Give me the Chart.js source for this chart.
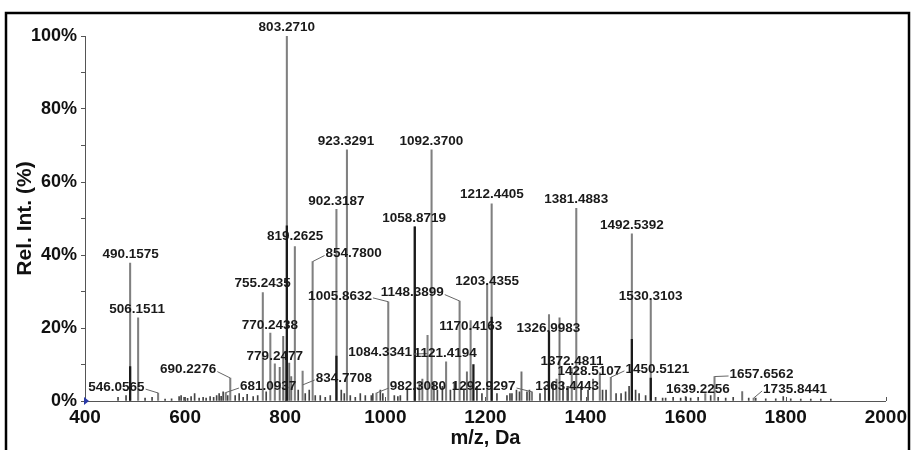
<!DOCTYPE html>
<html><head><meta charset="utf-8">
<script src="https://cdn.jsdelivr.net/npm/chart.js@4.4.1/dist/chart.umd.min.js"></script>
<style>html,body{margin:0;padding:0;background:#fff;}#wrap{width:912px;height:450px;position:relative;}</style>
</head><body><div id="wrap"><canvas id="c" width="912" height="450"></canvas></div>
<script>
// ---- data ----
const xTickLabels = [400, 600, 800, 1000, 1200, 1400, 1600, 1800, 2000];
const yTickLabels = [0, 20, 40, 60, 80, 100];

// labelled peaks (m/z, relative intensity %)
const labeledMz = [490.1575, 506.1511, 546.0565, 681.0937, 690.2276, 755.2435, 770.2438, 779.2477,
  803.2710, 819.2625, 834.7708, 854.7800, 902.3187, 923.3291, 982.3080, 1005.8632, 1058.8719,
  1084.3341, 1092.3700, 1121.4194, 1148.3899, 1170.4163, 1203.4355, 1212.4405, 1292.9297,
  1326.9983, 1363.4443, 1372.4811, 1381.4883, 1428.5107, 1450.5121, 1492.5392, 1530.3103,
  1639.2256, 1657.6562, 1735.8441];
const labeledInt = [37.8, 22.8, 2.2, 2.3, 6.3, 29.7, 18.6, 10.2,
  100, 42.3, 8.2, 38.2, 52.5, 68.8, 2.2, 27.2, 47.7,
  18.0, 68.8, 10.7, 27.4, 22.0, 32.2, 54.0, 2.5,
  23.7, 4.0, 9.0, 52.8, 7.7, 6.5, 45.8, 27.7,
  2.0, 6.7, 0.8];

// other visible (unlabelled) peaks
const otherMz = [789, 796, 801, 808, 812, 1068, 1074, 1097, 1163, 1272, 1342, 1348, 1415, 1713];
const otherInt = [9.2, 17.7, 13, 10.4, 6.7, 5, 6, 5, 8, 8, 6, 22.8, 6, 2.6];

// darker overlay traces
const darkMz = [490.16, 803.27, 902.32, 1058.87, 1176, 1212.44, 1326.99, 1492.54, 1530.31];
const darkInt = [9.4, 48, 12.3, 47.7, 10, 23, 19, 16.9, 6.3];

// baseline noise peaks
const noiseMz = [466, 482, 520, 534, 560, 573, 588, 592, 598, 605, 612, 619, 628, 636, 642, 650, 657, 663,
  668, 672, 676, 685, 700, 708, 716, 724, 736, 745, 762, 826, 840, 848, 860, 870, 880, 890, 912, 918,
  930, 940, 950, 960, 972, 975, 990, 995, 1018, 1025, 1030, 1044, 1104, 1114, 1130, 1138, 1157, 1183,
  1193, 1223, 1243, 1249, 1253, 1262, 1268, 1283, 1288, 1309, 1319, 1335, 1355, 1365, 1391, 1405,
  1434, 1441, 1461, 1471, 1480, 1487, 1500, 1507, 1520, 1540, 1554, 1560, 1575, 1590, 1600, 1610,
  1625, 1650, 1665, 1680, 1695, 1726, 1740, 1760, 1780, 1795, 1810, 1830, 1850, 1870, 1890];
const noiseInt = [1.0, 1.5, 0.8, 1.0, 0.5, 0.6, 1.2, 1.5, 1.0, 0.7, 1.2, 2.0, 0.8, 1.0, 0.8, 1.2, 1.0, 1.5,
  2.0, 1.3, 2.5, 1.5, 1.5, 2.0, 1.0, 1.8, 1.2, 1.5, 2.5, 3, 2, 3, 1.5, 1.5, 1, 1.5, 3, 2,
  1.5, 1, 2, 1.5, 1.5, 2, 3, 2, 1.5, 1.2, 1.5, 3, 3, 4, 3, 5, 3, 4,
  2, 2, 1.5, 2, 2, 3, 2.5, 2.5, 3, 2, 4, 5, 5, 4, 4, 3,
  3, 3, 2, 2, 2.5, 4, 3, 2, 1.5, 1, 0.8, 0.8, 1, 0.8, 1.2, 0.8,
  1, 1.5, 1, 0.8, 1, 0.8, 0.8, 0.6, 0.6, 1.2, 0.6, 0.5, 0.5, 0.5, 0.5];

// ---- label layout (separate from data): [label centre m/z, label centre %, leader tip % or null] ----
const labelLayout = [
  [491.2, 40.1, null], [504.1, 25.1, null], [462.8, 3.8, 2.2], [765.8, 4.1, 2.3], [606.2, 8.6, 6.3],
  [754.9, 32.3, null], [769.4, 20.8, null], [779.1, 12.3, null], [803.1, 102.3, null], [819.7, 45.1, null],
  [917.1, 6.3, 4.4], [936.7, 40.4, 38.2], [902.2, 54.8, null], [921.4, 71.2, null], [1065.2, 4.1, 2.2],
  [909.5, 28.8, 27.2], [1057.6, 50.1, null], [989.8, 13.4, 13.0], [1091.9, 71.2, null], [1119.7, 13.2, null],
  [1053.7, 29.7, 27.4], [1170.6, 20.5, null], [1203.5, 32.9, null], [1212.9, 56.7, null], [1196.4, 4.1, 2.5],
  [1325.9, 19.9, null], [1363.2, 4.1, null], [1373.1, 11.0, null], [1381.4, 55.3, null], [1407.8, 8.2, null],
  [1543.4, 8.8, 6.5], [1492.4, 48.2, null], [1530.1, 28.8, null], [1624.3, 3.3, null], [1751.5, 7.4, 6.7],
  [1818.5, 3.3, 0.8]
];

const pts = (xs, ys) => xs.map((x, i) => ({x: x, y: ys[i]}));

const FONT = "'Liberation Sans', Arial, sans-serif";

const decorPlugin = {
  id: 'decor',
  afterDatasetsDraw(chart) {
    const ctx = chart.ctx;
    const xs = chart.scales.x, ys = chart.scales.y;
    const area = chart.chartArea;
    ctx.save();
    // inward x ticks
    ctx.strokeStyle = '#555';
    ctx.lineWidth = 1;
    xTickLabels.forEach(v => {
      const px = Math.round(xs.getPixelForValue(v)) + 0.5;
      ctx.beginPath(); ctx.moveTo(px, area.bottom); ctx.lineTo(px, area.bottom - 4); ctx.stroke();
    });
    // labels
    ctx.font = 'bold 13.5px ' + FONT;
    ctx.textAlign = 'center';
    ctx.textBaseline = 'middle';
    labeledMz.forEach((mz, i) => {
      const [lx, ly, tip] = labelLayout[i];
      const x = xs.getPixelForValue(lx), y = ys.getPixelForValue(ly);
      const text = mz.toFixed(4);
      const w = ctx.measureText(text).width;
      ctx.fillStyle = '#1a1a1a';
      ctx.fillText(text, x, y);
      if (tip !== null) {
        const px = xs.getPixelForValue(mz);
        const ty = ys.getPixelForValue(tip);
        const sx = px < x ? x - w / 2 - 1 : x + w / 2 + 1;
        ctx.strokeStyle = '#666';
        ctx.lineWidth = 1;
        ctx.beginPath(); ctx.moveTo(sx, y + 2); ctx.lineTo(px, ty); ctx.stroke();
      }
    });
    // origin marker
    ctx.fillStyle = '#2a3aa8';
    ctx.beginPath();
    ctx.moveTo(area.left - 1, area.bottom - 4);
    ctx.lineTo(area.left + 4, area.bottom);
    ctx.lineTo(area.left - 1, area.bottom + 4);
    ctx.closePath(); ctx.fill();
    // frame
    ctx.strokeStyle = '#000';
    ctx.lineWidth = 2.5;
    ctx.strokeRect(6, 13, 903, 460);
    ctx.restore();
  }
};

new Chart(document.getElementById('c'), {
  type: 'bar',
  data: {
    datasets: [
      {data: pts(darkMz, darkInt), backgroundColor: '#1a1a1a', barThickness: 1.6, order: 0},
      {data: pts(noiseMz, noiseInt), backgroundColor: '#444', barThickness: 1, order: 1},
      {data: pts(otherMz, otherInt), backgroundColor: '#707070', barThickness: 1.3, order: 2},
      {data: pts(labeledMz, labeledInt), backgroundColor: '#808080', barThickness: 1.4, order: 3}
    ]
  },
  options: {
    responsive: false,
    animation: false,
    devicePixelRatio: 1,
    layout: {padding: {left: 0, top: 36, right: 20, bottom: 0}},
    datasets: {bar: {grouped: false, borderWidth: 0}},
    plugins: {legend: {display: false}, tooltip: {enabled: false}},
    scales: {
      x: {
        type: 'linear', min: 400, max: 2000, offset: false,
        grid: {display: true, offset: false, drawOnChartArea: false, drawTicks: false},
        border: {display: true, color: '#555', width: 1},
        afterBuildTicks: s => { s.ticks = xTickLabels.map(v => ({value: v})); },
        ticks: {font: {family: FONT, size: 19, weight: 'bold'}, color: '#111', padding: 5, maxRotation: 0,
          callback: v => String(v)},
        title: {display: true, text: 'm/z, Da', font: {family: FONT, size: 20, weight: 'bold'}, color: '#111',
          padding: {top: 0, bottom: 0}},
        afterFit: s => { s.height = 49; }
      },
      y: {
        type: 'linear', min: 0, max: 100,
        grid: {display: true, drawOnChartArea: false, drawTicks: true, tickLength: 4, color: '#555'},
        border: {display: true, color: '#555', width: 1},
        ticks: {stepSize: 10, font: {family: FONT, size: 18, weight: 'bold'}, color: '#111', padding: 4,
          callback: v => yTickLabels.includes(v) ? v + '%' : ''},
        title: {display: true, text: 'Rel. Int. (%)', font: {family: FONT, size: 21, weight: 'bold'}, color: '#111',
          padding: {top: 13, bottom: 0}},
        afterFit: s => { s.width = 85; }
      }
    }
  },
  plugins: [decorPlugin]
});
</script>
</body></html>
